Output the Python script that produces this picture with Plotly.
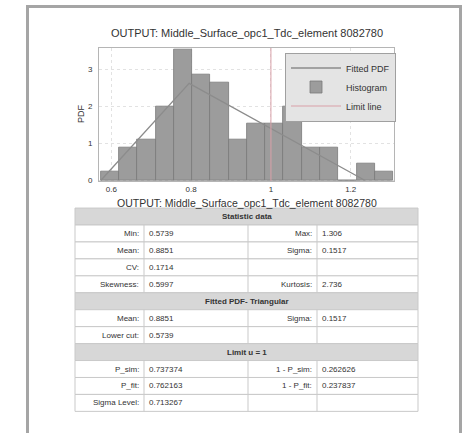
import plotly.graph_objects as go

W, H = 466, 433

# ---------------- data ----------------
title_text = "OUTPUT: Middle_Surface_opc1_Tdc_element 8082780"
bin_min = 0.5739
bin_max = 1.306
counts = [1, 4, 5, 9, 16, 13, 12, 5, 7, 7, 9, 4, 4, 0, 2, 1]
fit_x = [0.5739, 0.795, 1.235]
fit_y = [0.0, 2.62, 0.0]
limit_u = 1.0
x_tick_vals = [0.6, 0.8, 1.0, 1.2]
x_tick_text = ["0.6", "0.8", "1", "1.2"]
y_tick_vals = [0, 1, 2, 3]
y_tick_text = ["0", "1", "2", "3"]

sec1_title = "Statistic data"
sec1_lab_l = ["Min:", "Mean:", "CV:", "Skewness:"]
sec1_val_l = ["0.5739", "0.8851", "0.1714", "0.5997"]
sec1_lab_r = ["Max:", "Sigma:", "", "Kurtosis:"]
sec1_val_r = ["1.306", "0.1517", "", "2.736"]

sec2_title = "Fitted PDF- Triangular"
sec2_lab_l = ["Mean:", "Lower cut:"]
sec2_val_l = ["0.8851", "0.5739"]
sec2_lab_r = ["Sigma:", ""]
sec2_val_r = ["0.1517", ""]

sec3_title = "Limit u = 1"
sec3_lab_l = ["P_sim:", "P_fit:", "Sigma Level:"]
sec3_val_l = ["0.737374", "0.762163", "0.713267"]
sec3_lab_r = ["1 - P_sim:", "1 - P_fit:", ""]
sec3_val_r = ["0.262626", "0.237837", ""]

# ---------------- helpers ----------------
def px(x):
    return x / W

def py(y):
    return 1 - y / H

FONT = "Liberation Sans, Arial, sans-serif"
TXT = "#333333"

n_bins = len(counts)
n_samples = sum(counts)
bw = (bin_max - bin_min) / n_bins
centers = [bin_min + bw * (i + 0.5) for i in range(n_bins)]
density = [c / (n_samples * bw) for c in counts]

y_range = [-0.03, 3.59]
x_range = [0.569, 1.3085]

fig = go.Figure()
fig.add_trace(go.Bar(
    x=centers, y=density, width=bw, name="Histogram",
    marker=dict(color="#9c9c9c", line=dict(color="#7a7a7a", width=0.8)),
    legendrank=2,
))
fig.add_trace(go.Scatter(
    x=fit_x, y=fit_y, mode="lines", name="Fitted PDF",
    line=dict(color="#8c8c8c", width=1.3), legendrank=1,
))
fig.add_trace(go.Scatter(
    x=[limit_u, limit_u], y=y_range, mode="lines", name="Limit line",
    line=dict(color="#d9a0a8", width=1), legendrank=3,
))

shapes = []
annotations = []

# page frame
shapes.append(dict(type="rect", xref="paper", yref="paper",
                   x0=px(27.5), x1=px(460.5), y0=py(440), y1=py(6.5),
                   line=dict(color="#a5a5a5", width=3), layer="below"))

# titles
annotations.append(dict(text=title_text, x=px(247), y=py(33), xref="paper", yref="paper",
                        showarrow=False, font=dict(size=11, color=TXT, family=FONT),
                        xanchor="center", yanchor="middle"))
annotations.append(dict(text=title_text, x=px(247), y=py(197), xref="paper", yref="paper",
                        showarrow=False, font=dict(size=10.5, color=TXT, family=FONT),
                        xanchor="center", yanchor="top"))
annotations.append(dict(text="PDF", x=px(81), y=py(115), xref="paper", yref="paper",
                        showarrow=False, textangle=-90,
                        font=dict(size=9, color=TXT, family=FONT),
                        xanchor="center", yanchor="middle"))

# ---------------- table ----------------
tx0, tx1 = 75, 418
cols = [75, 144, 248, 317, 418]
row_h = 17.1
top = 210
rows = []
rows.append(("h", sec1_title))
for i in range(len(sec1_lab_l)):
    rows.append(("r", (sec1_lab_l[i], sec1_val_l[i], sec1_lab_r[i], sec1_val_r[i])))
rows.append(("h", sec2_title))
for i in range(len(sec2_lab_l)):
    rows.append(("r", (sec2_lab_l[i], sec2_val_l[i], sec2_lab_r[i], sec2_val_r[i])))
rows.append(("h", sec3_title))
for i in range(len(sec3_lab_l)):
    rows.append(("r", (sec3_lab_l[i], sec3_val_l[i], sec3_lab_r[i], sec3_val_r[i])))

GRID = "#c9c9c9"
for k, (kind, content) in enumerate(rows):
    y0 = top + k * row_h
    y1 = y0 + row_h
    ym = (y0 + y1) / 2
    if kind == "h":
        shapes.append(dict(type="rect", xref="paper", yref="paper",
                           x0=px(tx0), x1=px(tx1), y0=py(y1), y1=py(y0),
                           fillcolor="#d7d7d7", line=dict(color=GRID, width=1)))
        annotations.append(dict(text="<b>%s</b>" % content, x=px((tx0 + tx1) / 2), y=py(ym),
                                xref="paper", yref="paper", showarrow=False,
                                font=dict(size=8, color=TXT, family=FONT),
                                xanchor="center", yanchor="middle"))
    else:
        shapes.append(dict(type="rect", xref="paper", yref="paper",
                           x0=px(tx0), x1=px(tx1), y0=py(y1), y1=py(y0),
                           fillcolor="white", line=dict(color=GRID, width=1)))
        for cx in cols[1:-1]:
            shapes.append(dict(type="line", xref="paper", yref="paper",
                               x0=px(cx), x1=px(cx), y0=py(y1), y1=py(y0),
                               line=dict(color=GRID, width=1)))
        lab_l, val_l, lab_r, val_r = content
        for text, xpos, anchor in ((lab_l, cols[1] - 3, "right"), (val_l, cols[1] + 3, "left"),
                                   (lab_r, cols[3] - 3, "right"), (val_r, cols[3] + 3, "left")):
            if text:
                annotations.append(dict(text=text, x=px(xpos), y=py(ym), xref="paper", yref="paper",
                                        showarrow=False, font=dict(size=8, color=TXT, family=FONT),
                                        xanchor=anchor, yanchor="middle"))

fig.update_layout(
    width=W, height=H, autosize=False,
    margin=dict(l=0, r=0, t=0, b=0, pad=0),
    paper_bgcolor="white", plot_bgcolor="white",
    bargap=0,
    shapes=shapes, annotations=annotations,
    showlegend=True,
    legend=dict(x=px(396), y=py(53), xanchor="right", yanchor="top",
                bgcolor="#e4e4e4", bordercolor="#a0a0a0", borderwidth=1,
                font=dict(size=9, color=TXT, family=FONT),
                itemwidth=50, tracegroupgap=0),
    xaxis=dict(domain=[px(99), px(394)], range=x_range, tickvals=x_tick_vals,
               ticktext=x_tick_text, showgrid=True, gridcolor="#e2e2e2", griddash="dot",
               zeroline=False, showline=True, linecolor="#b5b5b5", mirror=True,
               ticks="", ticklabelstandoff=0,
               tickfont=dict(size=8, color=TXT, family=FONT)),
    yaxis=dict(domain=[py(183), py(48)], range=y_range, tickvals=y_tick_vals,
               ticktext=y_tick_text, showgrid=True, gridcolor="#e2e2e2", griddash="dot",
               zeroline=False, showline=True, linecolor="#b5b5b5", mirror=True,
               ticks="", ticklabelstandoff=4,
               tickfont=dict(size=8, color=TXT, family=FONT)),
)

fig.write_html("out.html", config={"displayModeBar": False},
               post_script="document.body.style.margin='0';document.body.style.overflow='hidden';")
